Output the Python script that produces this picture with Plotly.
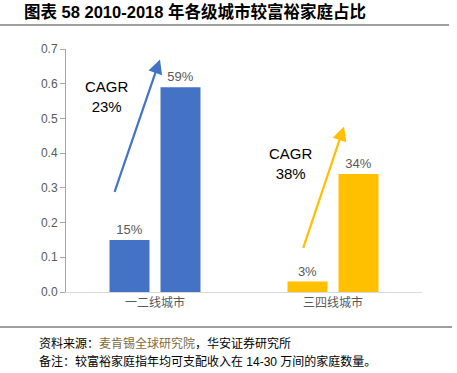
import plotly.graph_objects as go

categories = ["一二线城市", "三四线城市"]
share_2010 = [0.15, 0.03]
share_2018 = [0.59, 0.34]
labels_2010 = ["15%", "3%"]
labels_2018 = ["59%", "34%"]
group_colors = ["#4472C4", "#FFC000"]
cagr_text = ["CAGR<br>23%", "CAGR<br>38%"]

W, H = 457, 373
L, R, T, B = 66, 35, 49, 81
pw, ph = W - L - R, H - T - B

def px(x):
    return (x - L) / pw

def py(y):
    return (H - B - y) / ph

FONT = "Liberation Sans, Arial, Noto Sans CJK SC, sans-serif"
GRAY = "#595959"

fig = go.Figure()
fig.add_trace(go.Bar(x=categories, y=share_2010, marker=dict(color=group_colors, line=dict(width=0)),
                     text=labels_2010, textposition="outside", textfont=dict(color=GRAY, size=13, family=FONT),
                     cliponaxis=False, showlegend=False, hoverinfo="skip"))
fig.add_trace(go.Bar(x=categories, y=share_2018, marker=dict(color=group_colors, line=dict(width=0)),
                     text=labels_2018, textposition="outside", textfont=dict(color=GRAY, size=13, family=FONT),
                     cliponaxis=False, showlegend=False, hoverinfo="skip"))

annotations = []
arrows = [(-0.23, 0.284, 0.028, 0.67), (0.83, 0.123, 1.062, 0.477)]
for (x0, y0, x1, y1), c in zip(arrows, group_colors):
    annotations.append(dict(x=x1, y=y1, ax=x0, ay=y0, xref="x", yref="y", axref="x", ayref="y",
                            text="", showarrow=True, arrowhead=2, arrowsize=1.3, arrowwidth=2.2,
                            arrowcolor=c))
for (cx, cy), t in zip([(107, 96), (291, 163)], cagr_text):
    annotations.append(dict(x=px(cx), y=py(cy), xref="paper", yref="paper", text=t, showarrow=False,
                            xanchor="center", yanchor="middle",
                            font=dict(size=15, color="#000000", family=FONT), align="center"))
annotations.append(dict(x=px(22), y=py(12), xref="paper", yref="paper", xanchor="left", yanchor="middle",
                        text="<b>图表 58 2010-2018 年各级城市较富裕家庭占比</b>", showarrow=False,
                        font=dict(size=16.5, color="#000000", family="Liberation Sans, Noto Sans CJK SC")))
annotations.append(dict(x=px(37), y=py(342), xref="paper", yref="paper", xanchor="left", yanchor="middle",
                        text="资料来源：<span style='color:#7F6A3C'>麦肯锡全球研究院</span>，华安证券研究所", showarrow=False,
                        font=dict(size=12, color="#000000", family="Noto Sans CJK SC")))
annotations.append(dict(x=px(37), y=py(361), xref="paper", yref="paper", xanchor="left", yanchor="middle",
                        text="备注：较富裕家庭指年均可支配收入在 14-30 万间的家庭数量。", showarrow=False,
                        font=dict(size=12, color="#000000", family="Liberation Sans, Noto Sans CJK SC")))

shapes = [
    dict(type="line", xref="paper", yref="paper", x0=px(0), x1=px(449), y0=py(25), y1=py(25),
         line=dict(color="#404040", width=1.2)),
    dict(type="line", xref="paper", yref="paper", x0=px(0), x1=px(452), y0=py(327), y1=py(327),
         line=dict(color="#404040", width=1.2)),
]

fig.update_layout(
    width=W, height=H, margin=dict(l=L, r=R, t=T, b=B),
    paper_bgcolor="white", plot_bgcolor="white",
    barmode="group", bargap=0.427, bargroupgap=0.216,
    annotations=annotations, shapes=shapes,
    font=dict(family=FONT, color=GRAY, size=12),
)
fig.update_xaxes(showline=True, linecolor="#D9D9D9", linewidth=1, ticks="", showgrid=False,
                 tickfont=dict(size=12, color=GRAY, family="Noto Sans CJK SC"))
fig.update_yaxes(range=[0, 0.7], dtick=0.1, tickformat=".1f", showline=True, linecolor="#A6A6A6",
                 linewidth=1, ticks="outside", ticklen=5, tickcolor="#A6A6A6", showgrid=False,
                 zeroline=False, tickfont=dict(size=12, color=GRAY, family=FONT))

fig.write_html("out.html", config={"displayModeBar": False},
               post_script="document.body.style.margin='0';document.body.style.overflow='hidden';")
